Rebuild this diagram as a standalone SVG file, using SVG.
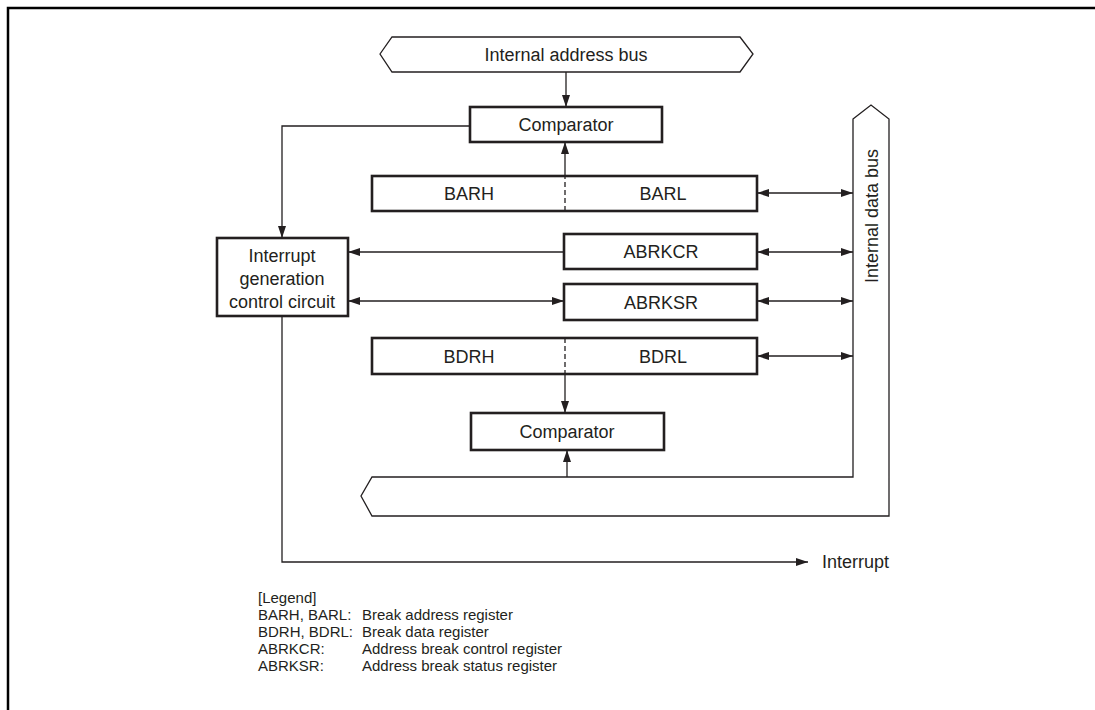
<svg xmlns="http://www.w3.org/2000/svg" width="1095" height="710" viewBox="0 0 1095 710">
<style>
text{font-family:"Liberation Sans",Arial,sans-serif;fill:#231f20}
.t{font-size:18px;text-anchor:middle}
.lg{font-size:15px}
.box{fill:#fff;stroke:#231f20;stroke-width:2.6}
.bus{fill:#fff;stroke:#231f20;stroke-width:1.3}
.c{fill:none;stroke:#231f20;stroke-width:1.3}
.d{fill:none;stroke:#231f20;stroke-width:1.3;stroke-dasharray:5,3}
</style>
<defs>
<marker id="ah" viewBox="0 0 12 8" refX="12" refY="4" markerWidth="12" markerHeight="8" markerUnits="userSpaceOnUse" orient="auto-start-reverse">
<path d="M0,0 L12,4 L0,8 Z" fill="#231f20"/>
</marker>
</defs>
<g id="frame"><path d="M8,710 V8 H1095" fill="none" stroke="#000" stroke-width="2.5"/></g>
<g id="addrbus"><polygon class="bus" points="380,54 392,37 740,37 753,54 740,72 392,72"/><text class="t" x="566" y="61">Internal address bus</text></g>
<g id="databus"><polygon class="bus" points="853,119 871,105 889,119 889,516 372,516 361,496 372,477 853,477"/><text class="t" transform="translate(878,216) rotate(-90)">Internal data bus</text></g>
<g id="comp1"><rect class="box" x="470" y="107" width="192" height="35"/><text class="t" x="566" y="131">Comparator</text></g>
<g id="bar"><rect class="box" x="372" y="176" width="385" height="35"/><text class="t" x="469" y="200">BARH</text><text class="t" x="663" y="200">BARL</text></g>
<g id="intc"><rect class="box" x="217" y="238" width="131" height="78"/><text class="t" x="282" y="262">Interrupt</text><text class="t" x="282" y="285">generation</text><text class="t" x="282" y="308">control circuit</text></g>
<g id="abrkcr"><rect class="box" x="564" y="234" width="193" height="35"/><text class="t" x="661" y="258">ABRKCR</text></g>
<g id="abrksr"><rect class="box" x="564" y="284" width="193" height="36"/><text class="t" x="661" y="309">ABRKSR</text></g>
<g id="bdr"><rect class="box" x="372" y="338" width="385" height="36"/><text class="t" x="469" y="363">BDRH</text><text class="t" x="663" y="363">BDRL</text></g>
<g id="comp2"><rect class="box" x="471" y="413" width="193" height="37"/><text class="t" x="567" y="438">Comparator</text></g>
<g id="connectors">
<line class="c" x1="566" y1="72" x2="566" y2="107" marker-end="url(#ah)"/>
<polyline class="c" points="470,126 282,126 282,238" marker-end="url(#ah)"/>
<line class="d" x1="565" y1="211" x2="565" y2="176"/>
<line class="c" x1="565" y1="176" x2="565" y2="142" marker-end="url(#ah)"/>
<line class="c" x1="757" y1="193" x2="853" y2="193" marker-start="url(#ah)" marker-end="url(#ah)"/>
<line class="c" x1="564" y1="252" x2="348" y2="252" marker-end="url(#ah)"/>
<line class="c" x1="757" y1="252" x2="853" y2="252" marker-start="url(#ah)" marker-end="url(#ah)"/>
<line class="c" x1="348" y1="301" x2="564" y2="301" marker-start="url(#ah)" marker-end="url(#ah)"/>
<line class="c" x1="757" y1="301" x2="853" y2="301" marker-start="url(#ah)" marker-end="url(#ah)"/>
<line class="d" x1="565" y1="338" x2="565" y2="374"/>
<line class="c" x1="757" y1="356" x2="853" y2="356" marker-start="url(#ah)" marker-end="url(#ah)"/>
<line class="c" x1="565" y1="374" x2="565" y2="413" marker-end="url(#ah)"/>
<line class="c" x1="567" y1="477" x2="567" y2="450" marker-end="url(#ah)"/>
<polyline class="c" points="282,316 282,562 808,562" marker-end="url(#ah)"/>
</g>
<g id="interrupt-label"><text x="822" y="568" style="font-size:18px">Interrupt</text></g>
<g id="legend">
<text class="lg" x="258" y="603">[Legend]</text>
<text class="lg" x="258" y="620">BARH, BARL:</text><text class="lg" x="362" y="620">Break address register</text>
<text class="lg" x="258" y="637">BDRH, BDRL:</text><text class="lg" x="362" y="637">Break data register</text>
<text class="lg" x="258" y="654">ABRKCR:</text><text class="lg" x="362" y="654">Address break control register</text>
<text class="lg" x="258" y="671">ABRKSR:</text><text class="lg" x="362" y="671">Address break status register</text>
</g>
</svg>
